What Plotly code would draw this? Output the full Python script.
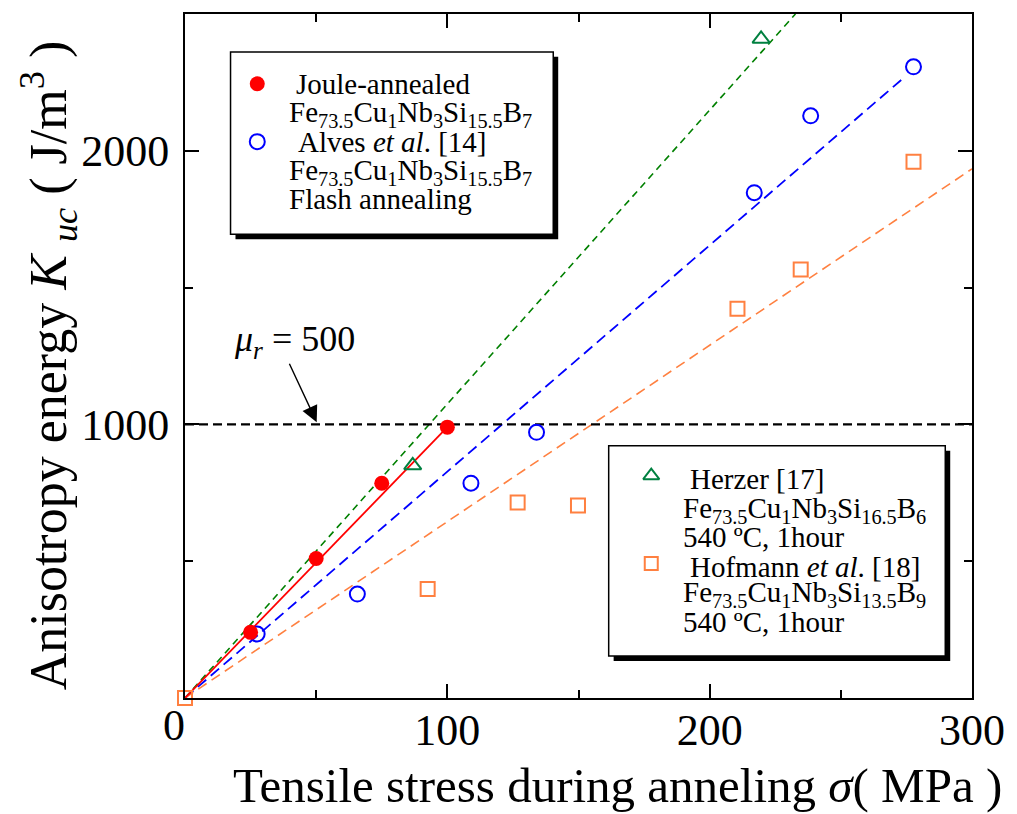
import plotly.graph_objects as go

# ---------------- data ----------------
joule_x = [25, 50, 75, 100]
joule_y = [240, 510, 785, 990]
joule_fit_x = [0, 100]
joule_fit_y = [0, 990]

alves_x = [27.5, 65.7, 109, 134, 217, 238.5, 277.7]
alves_y = [234, 380, 785, 971, 1847, 2128, 2307]
alves_fit_x = [0, 274]
alves_fit_y = [0, 2267]

herzer_x = [86.8, 219.6]
herzer_y = [850, 2409]
herzer_fit_x = [0, 232.7]
herzer_fit_y = [0, 2500]

hof_x = [0, 92.5, 126.8, 149.8, 210.6, 234.7, 277.7]
hof_y = [0, 398, 715, 704, 1423, 1566, 1960]
hof_fit_x = [0, 300]
hof_fit_y = [0, 1934]

mu_line_x = [0, 300]
mu_line_y = [1000, 1000]

x_tick_vals = [100, 200, 300]
x_minor_vals = [50, 150, 250]
y_tick_vals = [1000, 2000]
y_minor_vals = [500, 1500, 2500]

RED = "#ff0000"
BLUE = "#0000ff"
GREEN = "#008040"
GREEN_LINE = "#008000"
ORANGE = "#ff8040"
FONT = "Liberation Serif"

W, H = 1017, 814
L, R, T, B = 185, 980, 12, 698  # plot area in pixels


def px(x):
    return (x - L) / (R - L)


def py(y):
    return (B - y) / (B - T)


fig = go.Figure()

# fit lines
fig.add_trace(go.Scatter(x=herzer_fit_x, y=herzer_fit_y, mode="lines",
                         line=dict(color=GREEN_LINE, width=1.6, dash="7px,5px")))
fig.add_trace(go.Scatter(x=alves_fit_x, y=alves_fit_y, mode="lines",
                         line=dict(color=BLUE, width=1.8, dash="11px,6px")))
fig.add_trace(go.Scatter(x=hof_fit_x, y=hof_fit_y, mode="lines",
                         line=dict(color=ORANGE, width=1.6, dash="10px,6px")))
fig.add_trace(go.Scatter(x=mu_line_x, y=mu_line_y, mode="lines",
                         line=dict(color="black", width=2.2, dash="9px,5px")))
fig.add_trace(go.Scatter(x=joule_fit_x, y=joule_fit_y, mode="lines",
                         line=dict(color=RED, width=1.8)))

# data points
fig.add_trace(go.Scatter(x=hof_x, y=hof_y, mode="markers", cliponaxis=False,
                         marker=dict(symbol="square-open", size=14, color=ORANGE,
                                     line=dict(width=2, color=ORANGE))))
fig.add_trace(go.Scatter(x=alves_x, y=alves_y, mode="markers", cliponaxis=False,
                         marker=dict(symbol="circle-open", size=15, color=BLUE,
                                     line=dict(width=2, color=BLUE))))
fig.add_trace(go.Scatter(x=herzer_x, y=herzer_y, mode="markers", cliponaxis=False,
                         marker=dict(symbol="triangle-up-open", size=15, color=GREEN,
                                     line=dict(width=2, color=GREEN))))
fig.add_trace(go.Scatter(x=joule_x, y=joule_y, mode="markers", cliponaxis=False,
                         marker=dict(symbol="circle", size=15, color=RED)))

shapes = []
annotations = []


def legend_box(x0, y0, x1, y1, sh=5):
    shapes.append(dict(type="rect", xref="paper", yref="paper",
                       x0=px(x0 + sh), x1=px(x1 + sh), y0=py(y1 + sh), y1=py(y0 + sh),
                       fillcolor="black", line=dict(width=0), layer="below"))
    shapes.append(dict(type="rect", xref="paper", yref="paper",
                       x0=px(x0), x1=px(x1), y0=py(y1), y1=py(y0),
                       fillcolor="white", line=dict(color="black", width=1.5), layer="below"))


legend_box(231, 50, 557, 233)
legend_box(613, 445, 953, 656)


def legend_marker(xp, yp, **mk):
    fig.add_trace(go.Scatter(x=[(xp - L) / (R - L) * 300], y=[(B - yp) / (B - T) * 2500],
                             mode="markers", cliponaxis=False, marker=mk))


legend_marker(258, 82, symbol="circle", size=15, color=RED)
legend_marker(258, 140, symbol="circle-open", size=15, color=BLUE, line=dict(width=2, color=BLUE))
legend_marker(656, 475, symbol="triangle-up-open", size=14, color=GREEN, line=dict(width=2, color=GREEN))
legend_marker(656, 563, symbol="square-open", size=13, color=ORANGE, line=dict(width=2, color=ORANGE))


def text(xp, yp, s, size=29, xanchor="left", **kw):
    annotations.append(dict(xref="paper", yref="paper", x=px(xp), y=py(yp), text=s,
                            showarrow=False, xanchor=xanchor, yanchor="middle",
                            font=dict(family=FONT, size=size, color="black"), **kw))


f_top = "Fe<sub>73.5</sub>Cu<sub>1</sub>Nb<sub>3</sub>Si<sub>15.5</sub>B<sub>7</sub>"
text(295, 82, "Joule-annealed")
text(288, 112, f_top)
text(297, 140, "Alves <i>et al</i>. [14]")
text(288, 170, f_top)
text(288, 198, "Flash annealing")

text(693, 478, "Herzer [17]")
text(686, 509, "Fe<sub>73.5</sub>Cu<sub>1</sub>Nb<sub>3</sub>Si<sub>16.5</sub>B<sub>6</sub>")
text(686, 537, "540 ºC, 1hour")
text(693, 567, "Hofmann <i>et al</i>. [18]")
text(686, 594, "Fe<sub>73.5</sub>Cu<sub>1</sub>Nb<sub>3</sub>Si<sub>13.5</sub>B<sub>9</sub>")
text(686, 622, "540 ºC, 1hour")

# mu_r annotation + arrow
text(296, 340, "<i>μ<sub>r</sub></i> = 500", size=36, xanchor="center")
annotations.append(dict(x=50.2, y=1008, xref="x", yref="y", text="", showarrow=True,
                        ax=-28, ay=-60, arrowhead=2, arrowsize=2.3, arrowwidth=1.4,
                        arrowcolor="black"))

# x tick label "0" (offset left of the axis as in original)
text(174, 726, "0", size=44, xanchor="center")

# axis titles
text(622, 786, "Tensile stress during anneling <i>σ</i>( MPa )", size=49, xanchor="center")
annotations.append(dict(xref="paper", yref="paper", x=px(48), y=py(364),
                        text="Anisotropy energy <i>K</i> <sub><i>uc</i></sub> ( J/m<sup>3</sup> )",
                        textangle=-90, showarrow=False, xanchor="center", yanchor="middle",
                        font=dict(family=FONT, size=52, color="black")))

axis_common = dict(showline=True, linecolor="black", linewidth=2, mirror="ticks",
                   ticks="inside", ticklen=14, tickwidth=1.5, tickcolor="black",
                   showgrid=False, zeroline=False,
                   tickfont=dict(family=FONT, size=44, color="black"))

fig.update_xaxes(range=[0, 300], tickmode="array", tickvals=x_tick_vals,
                 minor=dict(tickvals=x_minor_vals, ticks="inside", ticklen=8,
                            tickwidth=1.5, tickcolor="black", showgrid=False),
                 ticklabelstandoff=-8,
                 **axis_common)
fig.update_yaxes(range=[0, 2500], tickmode="array", tickvals=y_tick_vals,
                 minor=dict(tickvals=y_minor_vals, ticks="inside", ticklen=8,
                            tickwidth=1.5, tickcolor="black", showgrid=False),
                 ticklabelstandoff=5,
                 **axis_common)

fig.update_layout(width=W, height=H, margin=dict(l=L, r=W - R, t=T, b=H - B),
                  paper_bgcolor="white", plot_bgcolor="white", showlegend=False,
                  shapes=shapes, annotations=annotations,
                  font=dict(family=FONT, color="black"))

fig.write_html("out.html")
